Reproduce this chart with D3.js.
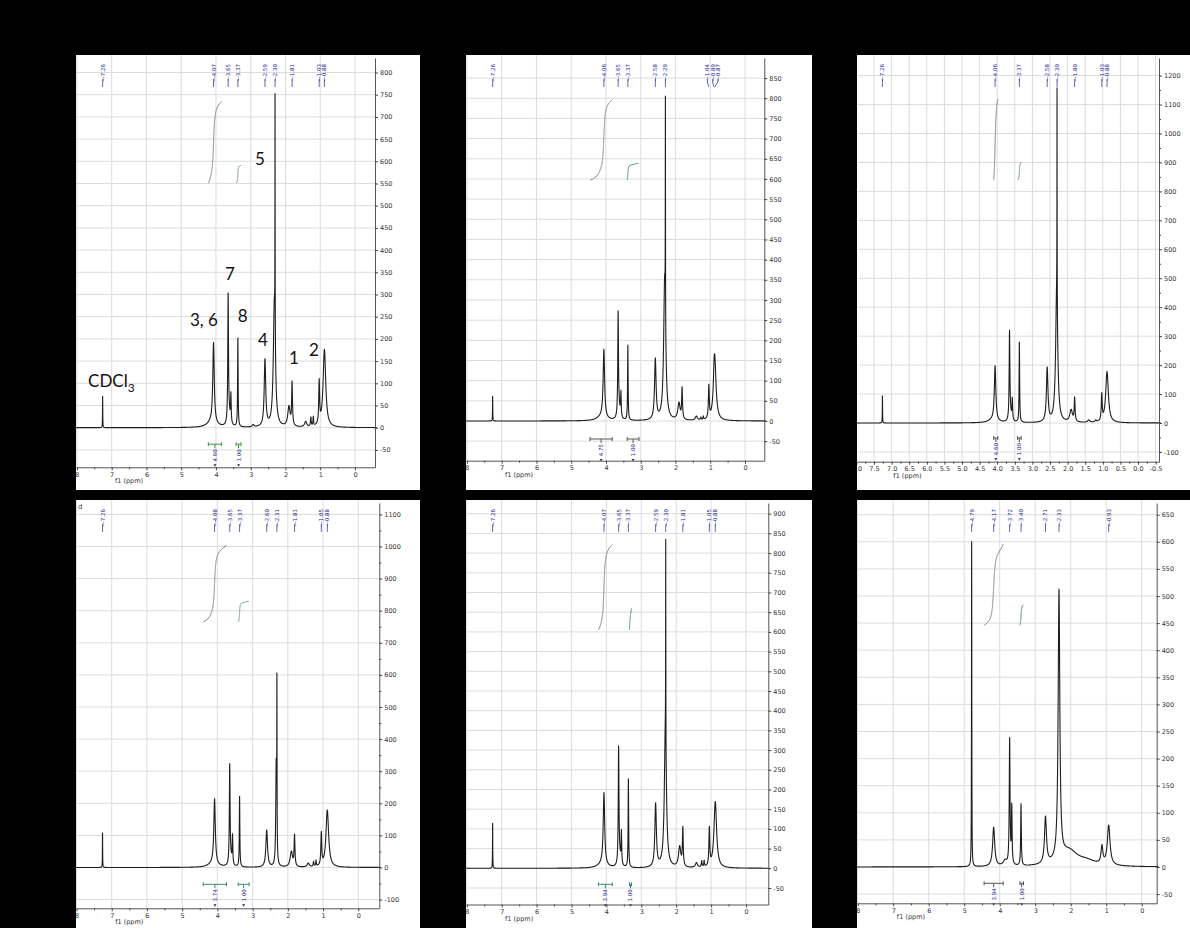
<!DOCTYPE html>
<html>
<head>
<meta charset="utf-8">
<script src="https://cdn.jsdelivr.net/npm/d3@7"></script>
<style>
  body { margin: 0; background: #000; }
  svg { display: block; }
</style>
</head>
<body>
<svg id="chart" width="1190" height="928"></svg>
<script>
// ---------- spectra: peaks as [shift ppm, height, half-width ppm] ----------
const peaksA = [
  [7.26, 71, 0.004],
  [4.07, 180, 0.025], [4.12, 12, 0.15],
  [3.65, 285, 0.012], [3.62, 25, 0.04],
  [3.57, 62, 0.01],
  [3.37, 198, 0.009],
  [2.93, 5, 0.03],
  [2.59, 150, 0.026],
  [2.32, 280, 0.035], [2.30, 540, 0.003],
  [1.90, 45, 0.04], [1.81, 95, 0.014],
  [1.42, 12, 0.035], [1.27, 20, 0.012], [1.20, 20, 0.01],
  [1.03, 95, 0.015], [0.88, 175, 0.045]
];
const peaksB = [
  [7.26, 62, 0.004],
  [4.06, 168, 0.025], [4.12, 10, 0.15],
  [3.65, 255, 0.012], [3.62, 25, 0.04],
  [3.57, 58, 0.01],
  [3.37, 185, 0.009],
  [2.58, 150, 0.026],
  [2.31, 350, 0.035], [2.29, 540, 0.003],
  [1.90, 42, 0.04], [1.81, 75, 0.014],
  [1.40, 10, 0.035], [1.27, 6, 0.012], [1.20, 8, 0.01],
  [1.04, 80, 0.015], [0.89, 30, 0.02], [0.87, 148, 0.045]
];
const peaksC = [
  [7.26, 95, 0.004],
  [4.06, 188, 0.025], [4.12, 10, 0.15],
  [3.65, 300, 0.012], [3.62, 25, 0.04],
  [3.57, 70, 0.01],
  [3.37, 278, 0.009],
  [2.58, 185, 0.026],
  [2.31, 450, 0.035], [2.30, 740, 0.003],
  [1.90, 42, 0.045], [1.80, 80, 0.014],
  [1.40, 8, 0.035], [1.20, 6, 0.02],
  [1.03, 90, 0.015], [0.88, 176, 0.045]
];
const peaksD = [
  [7.26, 108, 0.004],
  [4.08, 202, 0.025], [4.12, 12, 0.15],
  [3.65, 305, 0.012], [3.62, 25, 0.04],
  [3.57, 85, 0.01],
  [3.37, 220, 0.009],
  [2.60, 115, 0.028],
  [2.33, 320, 0.015], [2.31, 490, 0.004],
  [1.90, 48, 0.04], [1.81, 95, 0.014],
  [1.42, 12, 0.035], [1.27, 15, 0.012], [1.20, 18, 0.01],
  [1.05, 100, 0.015], [0.88, 178, 0.045]
];
const peaksE = [
  [7.26, 115, 0.004],
  [4.07, 182, 0.025], [4.12, 10, 0.15],
  [3.65, 290, 0.012], [3.62, 25, 0.04],
  [3.57, 80, 0.01],
  [3.37, 225, 0.009],
  [2.59, 160, 0.026],
  [2.31, 350, 0.035], [2.30, 510, 0.003],
  [1.90, 52, 0.04], [1.81, 95, 0.014],
  [1.42, 12, 0.035], [1.27, 15, 0.012], [1.20, 15, 0.01],
  [1.05, 95, 0.015], [0.88, 168, 0.045]
];
const peaksF = [
  [4.79, 600, 0.005],
  [4.17, 72, 0.035],
  [3.85, 10, 0.06],
  [3.72, 232, 0.013], [3.66, 105, 0.011],
  [3.40, 113, 0.011],
  [2.71, 86, 0.033],
  [2.33, 495, 0.028],
  [2.05, 28, 0.3], [1.55, 8, 0.3],
  [1.12, 32, 0.03],
  [0.93, 73, 0.045]
];

// ---------- peak picking labels ----------
const labelsA = ["7.26", "4.07", "3.65", "3.37", "2.59", "2.30", "1.81", "1.03", "0.88"];
const labelsB = ["7.26", "4.06", "3.65", "3.37", "2.58", "2.29", "1.04", "0.89", "0.87"];
const labelsC = ["7.26", "4.06", "3.37", "2.58", "2.30", "1.80", "1.03", "0.88"];
const labelsD = ["7.26", "4.08", "3.65", "3.37", "2.60", "2.31", "1.81", "1.05", "0.88"];
const labelsE = ["7.26", "4.07", "3.65", "3.37", "2.59", "2.30", "1.81", "1.05", "0.88"];
const labelsF = ["4.79", "4.17", "3.72", "3.40", "2.71", "2.33", "0.93"];

// ---------- integrals: [from ppm, to ppm, value] ----------
const integralsA = [[4.22, 3.84, "4.60"], [3.42, 3.28, "1.00"]];
const integralsB = [[4.46, 3.82, "4.75"], [3.39, 3.05, "1.00"]];
const integralsC = [[4.10, 3.98, "4.60"], [3.42, 3.32, "1.00"]];
const integralsD = [[4.40, 3.74, "3.74"], [3.41, 3.10, "1.00"]];
const integralsE = [[4.23, 3.83, "3.94"], [3.34, 3.28, "1.00"]];
const integralsF = [[4.44, 3.90, "3.94"], [3.43, 3.33, "1.00"]];

// ---------- axis ticks ----------
const ppmTicks = [8, 7, 6, 5, 4, 3, 2, 1, 0];
const ppmTicksHalf = [8.0, 7.5, 7.0, 6.5, 6.0, 5.5, 5.0, 4.5, 4.0, 3.5, 3.0, 2.5, 2.0, 1.5, 1.0, 0.5, 0.0, -0.5];
const yTicksA = [-50, 0, 50, 100, 150, 200, 250, 300, 350, 400, 450, 500, 550, 600, 650, 700, 750, 800];
const yTicksB = [-50, 0, 50, 100, 150, 200, 250, 300, 350, 400, 450, 500, 550, 600, 650, 700, 750, 800, 850];
const yTicksC = [-100, 0, 100, 200, 300, 400, 500, 600, 700, 800, 900, 1000, 1100, 1200];
const yTicksD = [-100, 0, 100, 200, 300, 400, 500, 600, 700, 800, 900, 1000, 1100];
const yTicksE = [-50, 0, 50, 100, 150, 200, 250, 300, 350, 400, 450, 500, 550, 600, 650, 700, 750, 800, 850, 900];
const yTicksF = [-50, 0, 50, 100, 150, 200, 250, 300, 350, 400, 450, 500, 550, 600, 650];

// ---------- assignments written on the first spectrum ----------
const assignA = ["CDCl|3", "3, 6", "7", "8", "4", "5", "1", "2"];
const assignAt = [[7.68, 92], [4.75, 229], [3.74, 332], [3.37, 238], [2.79, 184], [2.88, 592], [1.90, 143], [1.32, 161]];

// ---------- drawing ----------
const svg = d3.select("#chart");
svg.append("rect").attr("width", 1190).attr("height", 928).attr("fill", "#000");

const AXIS_FONT = "DejaVu Sans, Verdana, sans-serif";
const LABEL_BLUE = "#24249a";

function lorentz(peaks, p) {
  let v = 0;
  for (const [c, h, g] of peaks) v += h * g * g / ((p - c) * (p - c) + g * g);
  return v;
}

function sample(peaks, hi, lo, step) {
  const ps = [];
  for (let p = hi; p >= lo; p -= step) ps.push(p);
  for (const [c] of peaks) if (c <= hi && c >= lo) ps.push(c);
  ps.sort((a, b) => b - a);
  return ps.map(p => [p, lorentz(peaks, p)]);
}

function spread(xs, gap) {
  const pos = xs.slice();
  for (let it = 0; it < 200; it++) {
    let moved = false;
    for (let i = 1; i < pos.length; i++) {
      const d = pos[i] - pos[i - 1];
      if (d < gap) {
        const s = (gap - d) / 2;
        pos[i - 1] -= s; pos[i] += s; moved = true;
      }
    }
    if (!moved) break;
  }
  return pos;
}

let clipN = 0;
function drawPanel(L, D) {
  const id = "clip" + (clipN++);
  svg.append("clipPath").attr("id", id)
    .append("rect").attr("x", L.left).attr("y", L.top)
    .attr("width", L.right - L.left).attr("height", L.bottom - L.top);
  const g = svg.append("g").attr("clip-path", `url(#${id})`);
  g.append("rect").attr("x", L.left).attr("y", L.top)
    .attr("width", L.right - L.left).attr("height", L.bottom - L.top).attr("fill", "#fff");

  const ppmL = (L.zx - L.left) / L.ppp, ppmR = (L.zx - L.axisX) / L.ppp;
  const x = d3.scaleLinear().domain([ppmL, ppmR]).range([L.left, L.axisX]);
  const yMin = -(L.axisY - L.zy) / L.p100 * 100, yMax = (L.zy - L.plotTop) / L.p100 * 100;
  const y = d3.scaleLinear().domain([yMin, yMax]).range([L.axisY, L.plotTop]);

  // grid
  const grid = g.append("g").attr("stroke", "#dcdcdc").attr("stroke-width", 1);
  grid.selectAll(".gx").data(D.xTicks).join("line")
    .attr("x1", d => x(d)).attr("x2", d => x(d)).attr("y1", L.top).attr("y2", L.axisY);
  grid.selectAll(".gy").data(D.yTicks).join("line")
    .attr("x1", L.left).attr("x2", L.axisX).attr("y1", d => y(d)).attr("y2", d => y(d));

  // spectrum
  const pts = sample(D.peaks, ppmL + 0.05, ppmR - 0.05, 0.0008);
  const line = d3.line().x(d => x(d[0])).y(d => y(d[1]));
  g.append("path").datum(pts).attr("d", line)
    .attr("fill", "none").attr("stroke", "#1e1e1e").attr("stroke-width", 1.1);

  // integrals: running area under the spectrum across each range
  D.integrals.forEach(([a, b, val], i) => {
    const seg = sample(D.peaks, a, b, 0.0005);
    let acc = 0;
    const cum = [[seg[0][0], 0]];
    for (let k = 1; k < seg.length; k++) {
      acc += (seg[k - 1][1] + seg[k][1]) / 2 * (seg[k - 1][0] - seg[k][0]);
      cum.push([seg[k][0], acc]);
    }
    const rise = +val * L.intScale;
    const curve = cum.map(([p, c]) => [p, L.intBase + rise * c / acc]);
    g.append("path").datum(curve).attr("d", line)
      .attr("fill", "none").attr("stroke", i === 0 ? L.intCol1 : L.intCol2).attr("stroke-width", 1);

    // bar with end caps and the value below it
    const by = L.zy + L.barOff;
    const xa = x(a), xb = x(b), xm = (xa + xb) / 2;
    const bar = g.append("g").attr("stroke", L.barCol).attr("stroke-width", 1);
    bar.append("line").attr("x1", xa).attr("x2", xb).attr("y1", by).attr("y2", by);
    bar.append("line").attr("x1", xa).attr("x2", xa).attr("y1", by - 2).attr("y2", by + 2);
    bar.append("line").attr("x1", xb).attr("x2", xb).attr("y1", by - 2).attr("y2", by + 2);
    bar.append("line").attr("x1", xm).attr("x2", xm).attr("y1", by).attr("y2", by + 4);
    g.append("text").attr("transform", `translate(${xm},${by + 5}) rotate(-90)`)
      .attr("text-anchor", "end").attr("dominant-baseline", "central")
      .attr("font-family", AXIS_FONT).attr("font-size", 5.5).attr("fill", LABEL_BLUE)
      .text(val);
    g.append("path")
      .attr("d", `M${xm - 1.5},${by + 20} L${xm + 1.5},${by + 20} L${xm},${by + 22.5} Z`)
      .attr("fill", "#333");
  });

  // peak labels along the top
  const vals = D.labels.map(Number);
  const px = vals.map(v => x(v));
  const order = px.map((p, i) => i).sort((a, b) => px[a] - px[b]);
  const lx = spread(order.map(i => px[i]), 5.2);
  const ty = L.plotTop + 6;
  order.forEach((idx, k) => {
    const tx = lx[k];
    g.append("text").attr("transform", `translate(${tx},${ty}) rotate(-90)`)
      .attr("text-anchor", "end").attr("dominant-baseline", "central")
      .attr("font-family", AXIS_FONT).attr("font-size", 5.5).attr("fill", LABEL_BLUE)
      .text("\u2014" + D.labels[idx]);
    g.append("path")
      .attr("d", `M${tx},${ty + 15} L${tx},${ty + 18} L${px[idx]},${ty + 23}`)
      .attr("fill", "none").attr("stroke", LABEL_BLUE).attr("stroke-width", 0.7);
  });

  // axes
  const ya = g.append("g").attr("transform", `translate(${L.axisX},0)`)
    .call(d3.axisRight(y).tickValues(D.yTicks).tickSize(3).tickSizeOuter(0).tickPadding(2).tickFormat(d => String(d)));
  if (D.yMinor) {
    g.append("g").attr("transform", `translate(${L.axisX},0)`)
      .call(d3.axisRight(y).tickValues(D.yMinor).tickSize(2).tickFormat(""))
      .call(s => s.select(".domain").remove());
  }
  const xa = g.append("g").attr("transform", `translate(0,${L.axisY})`)
    .call(d3.axisBottom(x).tickValues(D.xTicks).tickSize(3).tickSizeOuter(0).tickPadding(2).tickFormat(D.xFmt));
  g.append("g").attr("transform", `translate(0,${L.axisY})`)
    .call(d3.axisBottom(x).tickValues(D.xMinor).tickSize(2).tickFormat(""))
    .call(s => s.select(".domain").remove());
  [ya, xa].forEach(a => {
    a.selectAll("text").attr("font-family", AXIS_FONT).attr("font-size", 6.5).attr("fill", "#333");
    a.selectAll("line").attr("stroke", "#444");
    a.select(".domain").attr("stroke", "#555");
  });
  g.selectAll(".tick line").attr("stroke", "#444");

  g.append("text").attr("x", x(L.f1At)).attr("y", L.axisY + 16)
    .attr("text-anchor", "middle").attr("font-family", AXIS_FONT).attr("font-size", 6.5)
    .attr("fill", "#333").text("f1 (ppm)");

  return { g, x, y };
}

const intFmt = d => String(d);
const halfFmt = d => d.toFixed(1);
const minorInt = ppmTicks.slice(0, -1).map(v => v - 0.5);
const minorHalf = [];
for (let i = 0; i < ppmTicksHalf.length - 1; i++) minorHalf.push(ppmTicksHalf[i] - 0.25);

const A = drawPanel(
  { left: 76, top: 55, right: 420, bottom: 490, zx: 355, ppp: 34.76, axisX: 375, axisY: 467.3,
    zy: 427.7, p100: 44.4, plotTop: 58, intBase: 551, intScale: 40, barOff: 16.5,
    intCol1: "#7d7d7d", intCol2: "#6f9a80", barCol: "#3a9a3a", f1At: 6.5 },
  { peaks: peaksA, labels: labelsA, integrals: integralsA, xTicks: ppmTicks, xMinor: minorInt,
    xFmt: intFmt, yTicks: yTicksA });

drawPanel(
  { left: 466, top: 55, right: 812, bottom: 490, zx: 745, ppp: 34.76, axisX: 764.3, axisY: 460.7,
    zy: 421, p100: 40.34, plotTop: 58, intBase: 597, intScale: 42, barOff: 18,
    intCol1: "#6f8f78", intCol2: "#3d8f7a", barCol: "#555", f1At: 6.5 },
  { peaks: peaksB, labels: labelsB, integrals: integralsB, xTicks: ppmTicks, xMinor: minorInt,
    xFmt: intFmt, yTicks: yTicksB });

drawPanel(
  { left: 857, top: 55, right: 1190, bottom: 490, zx: 1138, ppp: 35.2, axisX: 1159, axisY: 461.7,
    zy: 423, p100: 28.95, plotTop: 58, intBase: 839, intScale: 61, barOff: 15,
    intCol1: "#7d7d7d", intCol2: "#6f9a80", barCol: "#555", f1At: 6.55 },
  { peaks: peaksC, labels: labelsC, integrals: integralsC, xTicks: ppmTicksHalf, xMinor: minorHalf,
    xFmt: halfFmt, yTicks: yTicksC, yMinor: yTicksC.slice(0, -1).map(v => v + 50) });

const Dp = drawPanel(
  { left: 76, top: 500, right: 420, bottom: 928, zx: 358.3, ppp: 35.23, axisX: 379.3, axisY: 908.3,
    zy: 867.5, p100: 32.1, plotTop: 503, intBase: 765, intScale: 64, barOff: 16.8,
    intCol1: "#7d7d7d", intCol2: "#6f9a80", barCol: "#3a8a6a", f1At: 6.5 },
  { peaks: peaksD, labels: labelsD, integrals: integralsD, xTicks: ppmTicks, xMinor: minorInt,
    xFmt: intFmt, yTicks: yTicksD, yMinor: yTicksD.slice(0, -1).map(v => v + 50) });

drawPanel(
  { left: 466, top: 500, right: 812, bottom: 928, zx: 746, ppp: 34.9, axisX: 768.3, axisY: 904.5,
    zy: 868.3, p100: 39.4, plotTop: 503, intBase: 605, intScale: 55, barOff: 16,
    intCol1: "#7d7d7d", intCol2: "#3d8f7a", barCol: "#3a8a6a", f1At: 6.5 },
  { peaks: peaksE, labels: labelsE, integrals: integralsE, xTicks: ppmTicks, xMinor: minorInt,
    xFmt: intFmt, yTicks: yTicksE });

drawPanel(
  { left: 857, top: 500, right: 1190, bottom: 928, zx: 1141.7, ppp: 35.5, axisX: 1156.7, axisY: 903.3,
    zy: 867, p100: 54.2, plotTop: 503, intBase: 446, intScale: 38, barOff: 16.3,
    intCol1: "#7d7d7d", intCol2: "#3d8f7a", barCol: "#555", f1At: 6.5 },
  { peaks: peaksF, labels: labelsF, integrals: integralsF, xTicks: ppmTicks, xMinor: minorInt,
    xFmt: intFmt, yTicks: yTicksF });

// letter in the corner of the fourth spectrum
Dp.g.append("text").attr("x", 78).attr("y", 509).attr("font-family", AXIS_FONT)
  .attr("font-size", 7).attr("fill", "#444").text("d");

// proton assignments on the first spectrum
assignA.forEach((t, i) => {
  const [p, v] = assignAt[i];
  const parts = t.split("|");
  const tx = A.g.append("text").attr("x", A.x(p)).attr("y", A.y(v))
    .attr("font-family", "Lato, 'Open Sans', sans-serif").attr("font-size", 17).attr("fill", "#111");
  tx.append("tspan").text(parts[0]);
  if (parts[1]) tx.append("tspan").attr("dy", 5).attr("font-size", 12).text(parts[1]);
});
</script>
</body>
</html>
